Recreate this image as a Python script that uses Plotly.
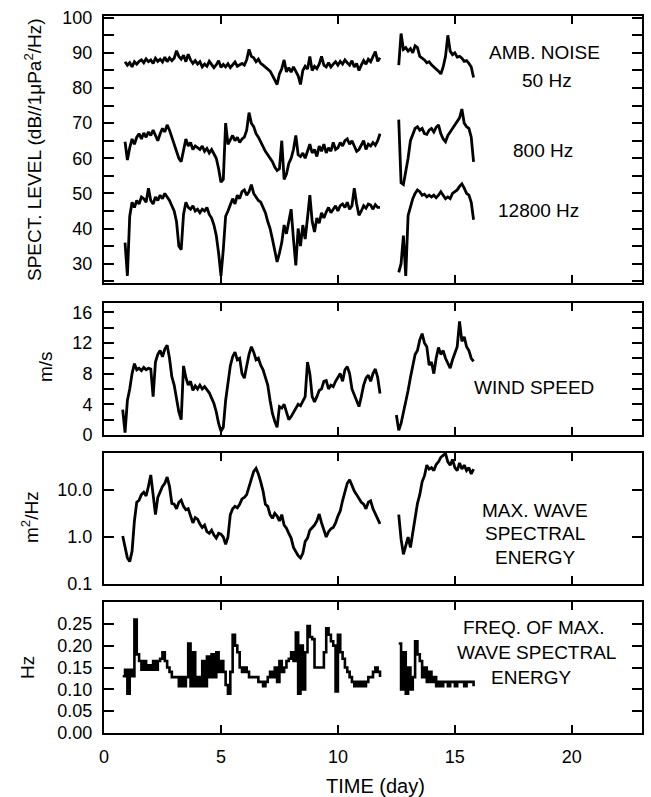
import plotly.graph_objects as go

# ---------------- data ----------------
SEG_A_START, SEG_A_N = 0.8, 112   # days 0.8 .. 11.9
SEG_B_START, SEG_B_N = 12.5, 35   # days 12.5 .. 15.9
days = [round(SEG_A_START + 0.1 * i, 1) for i in range(SEG_A_N)] + \
       [round(SEG_B_START + 0.1 * i, 1) for i in range(SEG_B_N)]

amb_50hz = [
    None, 87.5,
    86.5, 87.2, 86.0, 87.5, 86.8, 87.6, 88.0, 87.2, 88.3, 87.5,
    88.0, 87.0, 88.5, 87.6, 88.2, 87.4, 88.8, 87.5, 88.6, 87.8,
    88.5, 90.6, 89.0, 88.2, 89.3, 87.5, 89.6, 88.0, 87.0, 87.8,
    86.8, 87.5, 86.0, 86.8, 86.2, 87.6, 86.5, 85.8, 86.6, 87.8,
    85.9, 86.7, 86.0, 86.9, 85.8, 86.5, 87.4, 86.2, 86.6, 87.0,
    86.5, 88.0, 91.0, 89.0, 88.6, 87.5, 88.2, 87.0, 86.5, 86.0,
    85.5, 84.8, 83.6, 82.5, 81.0, 84.0, 85.5, 88.0, 84.6, 85.8,
    84.5, 86.0, 84.8, 83.5, 81.0, 85.0, 86.2, 85.4, 89.0, 85.0,
    86.2, 85.5, 86.8, 89.0, 86.5, 86.0, 87.2, 86.0, 86.8, 87.5,
    86.5, 87.6, 86.8, 88.0, 87.2, 86.5, 87.8, 86.0, 87.0, 85.0,
    86.5, 87.8, 86.8, 88.2, 87.5, 88.8, 90.4, 87.6, 88.6, None,
    None, 86.5, 95.5, 91.0, 91.5,
    90.5, 91.2, 90.0, 92.0, 91.5, 89.0, 88.5, 88.0, 87.2, 87.5,
    86.6, 86.0, 85.5, 84.8, 84.0, 86.0, 89.0, 95.0, 90.5, 89.5,
    90.0, 88.8, 89.0, 88.5, 87.6, 87.8, 87.0, 86.0, 83.0, None,
]

amb_800hz = [
    None, 64.7,
    59.5, 63.0, 65.5, 64.0, 66.0, 67.0, 65.5, 67.2, 66.0, 67.5,
    66.5, 68.0, 66.5, 65.0, 67.0, 68.5, 67.5, 69.5, 68.0, 66.0,
    64.5, 62.0, 60.0, 59.0, 62.5, 65.5, 63.5, 64.5, 62.5, 63.5,
    63.0, 62.5, 63.5, 62.0, 62.8, 61.5, 62.5, 61.0, 60.0, 57.0,
    53.2, 54.0, 70.0, 64.0, 65.5, 66.5, 65.0, 66.0, 64.5, 65.5,
    66.0, 68.0, 73.0, 70.0, 69.0, 67.0, 66.0, 64.5, 63.0, 62.0,
    61.0, 60.0, 59.0, 57.5, 56.5, 57.0, 65.0, 54.0, 55.5, 58.5,
    60.0, 62.5, 66.5, 61.0, 60.5, 61.5, 60.0, 62.0, 64.0, 61.5,
    62.5, 60.5, 63.5, 62.0, 64.0, 61.5, 63.0, 62.0, 64.5, 62.5,
    63.0, 64.5, 63.5, 65.0, 65.5, 64.0, 65.0, 63.5, 62.0, 62.5,
    64.0, 65.0, 62.5, 64.0, 63.5, 64.5, 63.7, 65.0, 67.0, None,
    None, 71.0, 53.0, 52.5, 56.0,
    60.0, 65.0, 66.5, 68.5, 69.0, 68.0, 68.5, 67.0, 66.8, 68.0,
    68.5, 67.5, 68.8, 69.5, 67.0, 65.5, 64.7, 66.5, 67.5, 68.6,
    69.5, 70.5, 71.5, 74.0, 70.0, 69.0, 68.5, 66.0, 59.0, None,
]

amb_12800hz = [
    None, 36.0,
    26.5, 43.5, 47.5, 46.0, 48.0, 47.0, 49.0, 48.5, 47.5, 51.5,
    48.0, 47.0, 49.0, 48.0, 49.5, 48.5, 50.0, 49.0, 48.0, 46.5,
    45.0, 42.0, 35.0, 34.0, 44.0, 47.5, 46.0, 45.5, 46.5, 45.0,
    45.5, 44.5, 45.5, 45.0, 46.0, 44.0, 43.0, 41.0, 38.0, 33.0,
    26.5, 34.0, 43.5, 45.0, 46.5, 48.5, 47.0, 49.5, 48.5, 50.5,
    51.0, 49.5, 50.5, 52.5, 50.0, 49.0, 48.0, 47.5, 46.0, 44.5,
    42.0, 40.0, 37.0, 34.0, 30.5, 33.0, 36.0, 41.0, 38.5, 42.0,
    45.5, 37.0, 29.5, 40.0, 35.0, 41.0, 37.0, 43.0, 49.5, 42.0,
    39.0, 43.0, 41.5, 44.5, 43.0, 44.7, 46.0, 44.5, 45.7, 46.5,
    45.0, 46.5, 47.0, 46.0, 47.5, 45.5, 46.5, 51.5, 47.0, 43.8,
    45.0, 46.5, 45.8, 47.0, 46.7, 45.5, 46.8, 46.0, 46.0, None,
    None, 27.5, 30.0, 38.0, 26.5,
    43.7, 46.0, 48.5, 50.0, 51.0, 50.5, 49.5, 49.8, 49.0, 49.5,
    49.0, 49.5, 48.8, 49.5, 50.5, 49.5, 48.5, 49.0, 48.5, 50.0,
    50.5, 51.0, 52.0, 52.7, 51.5, 50.0, 49.5, 47.5, 42.5, None,
]

wind_speed = [
    3.3, 0.3,
    4.5, 6.0, 8.0, 9.3, 8.5, 8.7, 8.4, 8.8, 8.5, 8.7,
    8.6, 5.0, 9.5, 10.5, 11.0, 10.2, 11.2, 11.7, 10.0, 7.6,
    6.5, 4.5, 3.0, 2.0, 9.0, 7.5, 6.5, 7.0, 5.8, 6.4,
    6.0, 6.5, 6.0, 6.3, 5.9, 5.5, 4.8, 4.1, 3.0, 1.5,
    0.5, 1.0, 4.5, 7.0, 9.0, 10.2, 10.8, 9.8, 10.0, 8.0,
    7.4, 9.0, 10.5, 11.5, 10.8, 9.8, 10.0, 9.1, 8.5, 7.5,
    6.5, 4.5, 2.8, 1.8, 1.0, 3.7, 3.5, 4.0, 3.0, 2.0,
    2.4, 3.0, 3.5, 4.0, 3.8, 4.5, 5.0, 9.5, 8.0, 5.0,
    4.3, 5.0, 5.8, 6.0, 7.0, 7.1, 6.0, 6.5, 6.3, 7.0,
    7.5, 8.0, 7.0, 8.5, 8.9, 8.0, 6.0, 5.2, 4.5, 3.7,
    5.0, 6.5, 7.4, 7.8, 7.0, 8.0, 8.6, 7.5, 5.4, None,
    2.6, 0.6, 1.5, 2.8, 4.2,
    5.8, 7.5, 9.0, 10.5, 11.0, 12.4, 13.2, 12.0, 11.5, 9.1,
    9.5, 8.0, 10.0, 11.4, 10.5, 11.0, 10.0, 9.3, 8.7, 9.8,
    10.6, 11.5, 14.8, 12.2, 12.8, 11.5, 11.0, 10.0, 9.6, None,
]

wave_energy = [
    1.05, 0.6,
    0.36, 0.3, 0.5, 2.2, 5.5, 6.1, 8.0, 9.0, 7.5, 12.0,
    21.0, 8.0, 3.0, 7.0, 9.0, 12.0, 14.0, 19.0, 12.0, 5.2,
    5.0, 4.0, 5.5, 6.1, 4.5, 3.8, 4.0, 2.8, 2.0, 2.6,
    2.4, 1.9, 1.6, 1.8, 1.3, 1.2, 1.4, 1.1, 0.95, 1.2,
    1.15, 1.0, 0.7, 1.0, 3.0, 4.0, 4.5, 4.2, 5.0, 6.5,
    7.0, 8.0, 12.0, 18.0, 25.0, 29.0, 22.0, 15.0, 9.5, 5.0,
    4.5, 3.0, 2.5, 3.2, 2.8, 2.2, 3.0, 1.8, 1.55, 1.2,
    0.95, 0.6, 0.5, 0.4, 0.36, 0.45, 0.8, 0.95, 1.4, 1.6,
    1.8, 2.2, 3.1, 2.0, 1.4, 1.0, 1.3, 1.5, 1.6, 2.0,
    2.8, 3.6, 6.0, 9.0, 14.0, 16.6, 12.0, 9.5, 8.0, 6.5,
    5.5, 5.0, 4.0, 5.5, 5.9, 4.0, 3.1, 2.4, 1.9, None,
    None, 3.0, 0.9, 0.43, 0.7,
    1.0, 0.6, 1.2, 2.5, 5.2, 8.0, 15.0, 20.0, 34.0, 28.0,
    30.0, 26.0, 35.0, 40.0, 50.0, 55.0, 60.0, 40.0, 34.0, 45.0,
    30.0, 26.0, 38.0, 28.0, 34.0, 26.0, 30.0, 22.0, 28.0, None,
]

peak_freq = [
    0.13, 0.145,
    0.09, 0.145, 0.13, 0.26, 0.18, 0.165, 0.145, 0.165, 0.145, 0.155,
    0.145, 0.165, 0.145, 0.165, 0.17, 0.185, 0.165, 0.15, 0.14, 0.128,
    0.128, 0.128, 0.107, 0.128, 0.107, 0.128, 0.205, 0.107, 0.185, 0.107,
    0.128, 0.107, 0.165, 0.107, 0.175, 0.128, 0.18, 0.128, 0.185, 0.14,
    0.165, 0.14, 0.11, 0.09, 0.14, 0.225, 0.2, 0.185, 0.15, 0.14,
    0.15, 0.14, 0.128, 0.128, 0.128, 0.128, 0.117, 0.117, 0.107, 0.117,
    0.128, 0.14, 0.128, 0.15, 0.117, 0.165, 0.14, 0.15, 0.165, 0.17,
    0.185, 0.165, 0.23, 0.09, 0.2, 0.1, 0.185, 0.245, 0.22, 0.215,
    0.15, 0.15, 0.15, 0.15, 0.185, 0.24, 0.225, 0.21, 0.2, 0.095,
    0.225, 0.185, 0.17, 0.15, 0.14, 0.128, 0.117, 0.107, 0.117, 0.107,
    0.117, 0.107, 0.117, 0.128, 0.128, 0.14, 0.15, 0.14, 0.128, None,
    None, 0.205, 0.1, 0.185, 0.09,
    0.15, 0.1, 0.128, 0.21, 0.18, 0.165, 0.128, 0.15, 0.117, 0.14,
    0.117, 0.128, 0.107, 0.117, 0.107, 0.117, 0.117, 0.107, 0.117, 0.117,
    0.107, 0.117, 0.117, 0.117, 0.107, 0.117, 0.117, 0.117, 0.107, None,
]

X_TICKS = [0, 5, 10, 15, 20]
SPL_TICKS = [30, 40, 50, 60, 70, 80, 90, 100]
WIND_TICKS = [0, 4, 8, 12, 16]
WAVE_TICKS = [0.1, 1, 10]
WAVE_TICK_TEXT = ["0.1", "1.0", "10.0"]
FREQ_TICKS = [0.0, 0.05, 0.10, 0.15, 0.20, 0.25]

# ---------------- layout helpers (pixel geometry) ----------------
W, H = 651, 797
L, R, T, B = 104, 642, 16, 733


def px(xp):
    return (xp - L) / (R - L)


def py(yp):
    return (B - yp) / (B - T)


FONT = "Arial, Liberation Sans, Helvetica, sans-serif"
LINE = dict(color="black", width=2.8)

fig = go.Figure()
for s in (amb_50hz, amb_800hz, amb_12800hz):
    fig.add_trace(go.Scatter(x=days, y=s, mode="lines", line=LINE,
                             xaxis="x", yaxis="y", showlegend=False))
fig.add_trace(go.Scatter(x=days, y=wind_speed, mode="lines", line=LINE,
                         xaxis="x2", yaxis="y2", showlegend=False))
fig.add_trace(go.Scatter(x=days, y=wave_energy, mode="lines", line=LINE,
                         xaxis="x3", yaxis="y3", showlegend=False))
fig.add_trace(go.Scatter(x=days, y=peak_freq, mode="lines",
                         line=dict(color="black", width=2.6, shape="hv"),
                         xaxis="x4", yaxis="y4", showlegend=False))

axis_common = dict(showline=True, linecolor="black", linewidth=2,
                   mirror="ticks", ticks="inside", tickcolor="black",
                   tickwidth=1.5, showgrid=False, zeroline=False,
                   automargin=False,
                   tickfont=dict(family=FONT, size=18, color="black"))

domains = [
    (py(283), py(16)),
    (py(435), py(303)),
    (py(584), py(453)),
    (py(733), py(602)),
]

layout = dict(width=W, height=H, margin=dict(l=L, r=W - R, t=T, b=H - B),
              paper_bgcolor="white", plot_bgcolor="white",
              font=dict(family=FONT, color="black"))

for i in range(4):
    n = "" if i == 0 else str(i + 1)
    layout["xaxis" + n] = dict(axis_common, range=[0, 23], tickvals=X_TICKS,
                               ticklen=8, anchor="y" + n,
                               showticklabels=(i == 3), ticklabelstandoff=6)

layout["yaxis"] = dict(axis_common, domain=domains[0], range=[24.5, 100.5],
                       tickvals=SPL_TICKS, ticklen=10, ticklabelstandoff=6,
                       minor=dict(dtick=5, tick0=0, ticks="inside", ticklen=10,
                                  tickcolor="black", tickwidth=1.5),
                       anchor="x")
layout["yaxis2"] = dict(axis_common, domain=domains[1], range=[0, 17.2],
                        tickvals=WIND_TICKS, ticklen=10, ticklabelstandoff=6,
                        minor=dict(dtick=2, tick0=0, ticks="inside", ticklen=10,
                                   tickcolor="black", tickwidth=1.5),
                        anchor="x2")
layout["yaxis3"] = dict(axis_common, domain=domains[2], type="log",
                        range=[-1, 1.79], tickvals=WAVE_TICKS,
                        ticktext=WAVE_TICK_TEXT, ticklen=10,
                        ticklabelstandoff=6, anchor="x3")
layout["yaxis4"] = dict(axis_common, domain=domains[3], range=[0, 0.3],
                        tickvals=FREQ_TICKS, tickformat=".2f", ticklen=10,
                        ticklabelstandoff=6, anchor="x4")

fig.update_layout(**layout)


def label(text, xp, yp, size=19, angle=0):
    fig.add_annotation(text=text, x=px(xp), y=py(yp), xref="paper",
                       yref="paper", showarrow=False, textangle=angle,
                       xanchor="center", yanchor="middle",
                       font=dict(family=FONT, size=size, color="black"))


label("AMB. NOISE", 544, 52)
label("50 Hz", 547, 80)
label("800 Hz", 543, 150)
label("12800 Hz", 538, 210)
label("WIND SPEED", 534, 387)
label("MAX. WAVE", 535, 510)
label("SPECTRAL", 535, 533)
label("ENERGY", 535, 557)
label("FREQ. OF MAX.", 533, 627)
label("WAVE SPECTRAL", 536, 652)
label("ENERGY", 531, 677)

label("SPECT. LEVEL (dB//1μPa<sup>2</sup>/Hz)", 33, 150, size=19, angle=-90)
label("m/s", 45, 367, size=19, angle=-90)
label("m<sup>2</sup>/Hz", 30, 517, size=19, angle=-90)
label("Hz", 27, 668, size=19, angle=-90)
label("TIME (day)", 375, 786, size=20)

fig.write_html(
    "out.html",
    config={"displayModeBar": False},
    post_script="document.body.style.margin='0';"
                "document.body.style.overflow='hidden';",
)
